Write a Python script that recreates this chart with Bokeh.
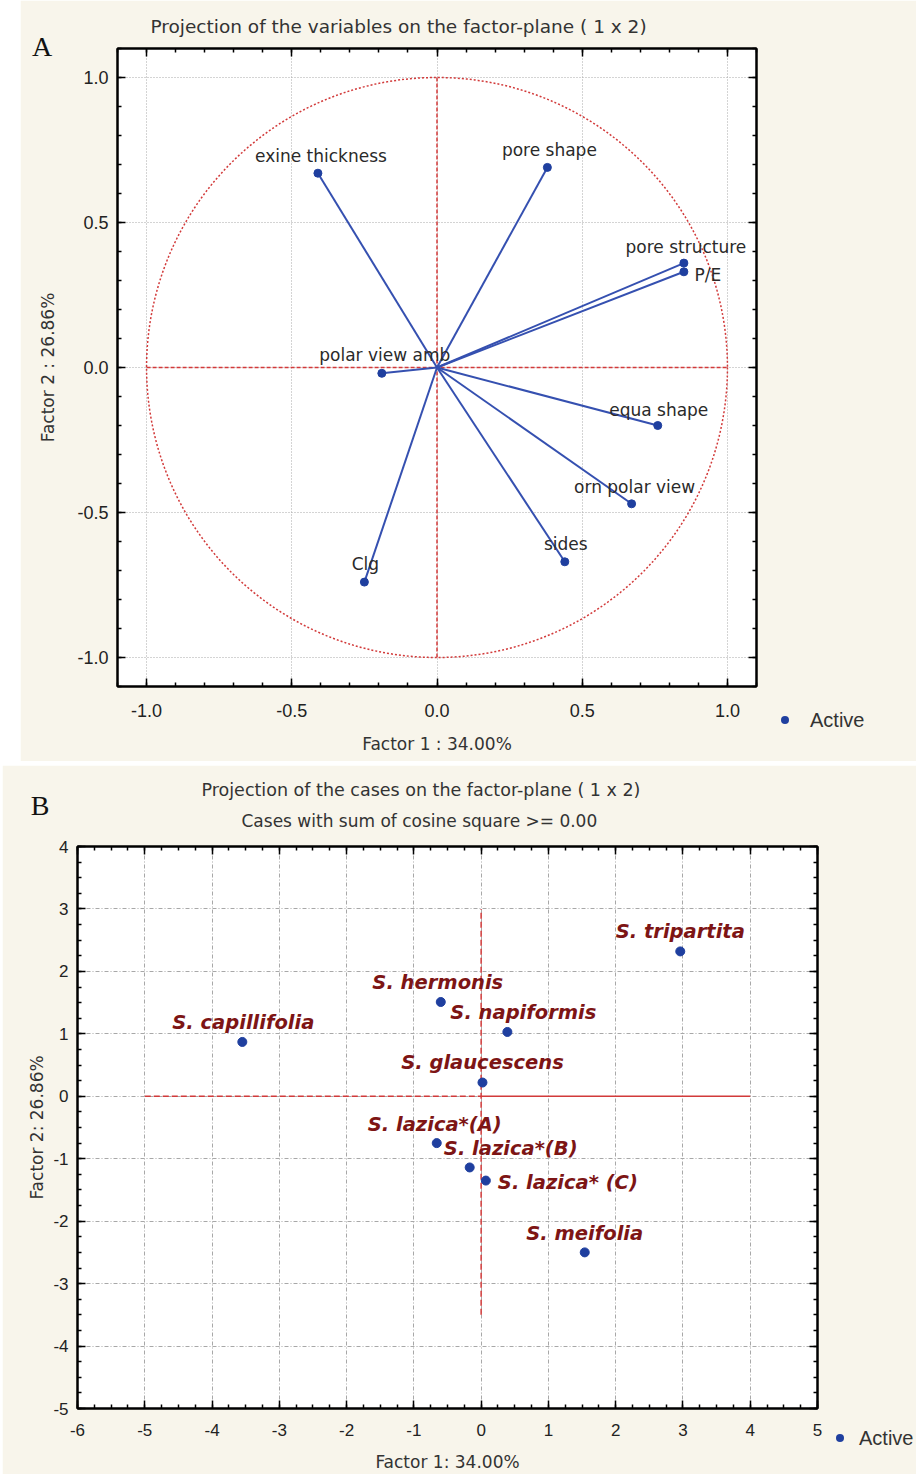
import numpy as np
from bokeh.plotting import figure
from bokeh.models import (Range1d, LinearAxis, FixedTicker, NumeralTickFormatter,
                          CustomJSTickFormatter, Title, Div, ColumnDataSource, Spacer,
                          GridBox)
from bokeh.layouts import column, row
from bokeh.embed import file_html
from bokeh.resources import INLINE
from bokeh.core.properties import value

# ---------------- data: panel A (variables) ----------------
var_names = ["exine thickness", "pore shape", "pore structure", "P/E",
             "polar view amb", "equa shape", "orn polar view", "sides", "Clg"]
var_f1 = [-0.41, 0.38, 0.85, 0.85, -0.19, 0.76, 0.67, 0.44, -0.25]
var_f2 = [0.67, 0.69, 0.36, 0.33, -0.02, -0.20, -0.47, -0.67, -0.74]

# ---------------- data: panel B (cases) ----------------
case_names = ["S. tripartita", "S. hermonis", "S. napiformis", "S. capillifolia",
              "S. glaucescens", "S. lazica*(A)", "S. lazica*(B)", "S. lazica* (C)",
              "S. meifolia"]
case_f1 = [2.96, -0.60, 0.39, -3.55, 0.02, -0.66, -0.17, 0.07, 1.54]
case_f2 = [2.32, 1.51, 1.03, 0.87, 0.22, -0.75, -1.14, -1.35, -2.50]

a_ticks = [-1.0, -0.5, 0.0, 0.5, 1.0]
bx_ticks = list(range(-6, 6))
by_ticks = list(range(-5, 5))

title_a = "Projection of the variables on the factor-plane ( 1 x  2)"
title_b = "Projection of the cases on the factor-plane ( 1 x  2)"
subtitle_b = "Cases with sum of cosine square >=  0.00"
xlab_a, ylab_a = "Factor 1 : 34.00%", "Factor 2 : 26.86%"
xlab_b, ylab_b = "Factor 1: 34.00%", "Factor 2: 26.86%"
legend_label = "Active"

# ---------------- styles ----------------
CREAM = "#f8f5eb"
BLUE = "#1f3f9f"
LINE_BLUE = "#3550b0"
RED = "#d23a3a"
DARKRED = "#7d1515"
GRID = "#a8a8a8"
SANS = "Liberation Sans"
DSANS = "DejaVu Sans"
SERIF = "Liberation Serif"
TXT = "#333333"


def style_axis(ax, ticks, minor, labels=True, fmt=None, size="18px"):
    ax.ticker = FixedTicker(ticks=ticks, minor_ticks=minor)
    ax.axis_line_color = "black"
    ax.axis_line_width = 2
    ax.major_tick_in = 8
    ax.major_tick_out = 0
    ax.minor_tick_in = 4
    ax.minor_tick_out = 0
    ax.major_tick_line_color = "black"
    ax.major_tick_line_width = 1.5
    ax.minor_tick_line_color = "black"
    ax.minor_tick_line_width = 1.5
    if labels:
        ax.formatter = fmt
        ax.major_label_text_font = SANS
        ax.major_label_text_font_size = size
        ax.major_label_text_color = "#222222"
    else:
        ax.formatter = CustomJSTickFormatter(code="return ''")
        ax.major_label_text_font_size = "1px"
        ax.major_label_standoff = 0


def style_label(ax, text, size, standoff):
    ax.axis_label = text
    ax.axis_label_text_font = DSANS
    ax.axis_label_text_font_size = size
    ax.axis_label_text_font_style = "normal"
    ax.axis_label_text_color = TXT
    ax.axis_label_standoff = standoff


def make_title(text, offset, standoff, size):
    t = Title(text=text, align="left", offset=offset, text_font=DSANS,
              text_font_size=size, text_font_style="normal", text_color=TXT)
    try:
        t.standoff = standoff
    except Exception:
        t.standoff = 0
    return t


def overlay_div(w, h, letter, letter_xy, dot_xy, text_x):
    """HTML layer laid over a panel: panel letter and the 'Active' legend."""
    lx, ly = letter_xy
    dx, dy = dot_xy
    html = (
        f'<div style="position:relative;width:{w}px;height:{h}px;pointer-events:none;">'
        f'<span style="position:absolute;left:{lx}px;top:{ly}px;transform:translate(-50%,-50%);'
        f"font-family:'{SERIF}';font-size:28px;line-height:1;color:#111111;\">{letter}</span>"
        f'<span style="position:absolute;left:{dx - 4}px;top:{dy - 4}px;width:8px;height:8px;'
        f'border-radius:50%;background:{BLUE};"></span>'
        f'<span style="position:absolute;left:{text_x}px;top:{dy}px;transform:translate(0,-50%);'
        f"font-family:'{SANS}';font-size:20px;line-height:1;color:{TXT};white-space:nowrap;\">"
        f'{legend_label}</span></div>'
    )
    return Div(text=html, width=w, height=h, margin=0, styles={"pointer-events": "none"})


# ======================= PANEL A =======================
WA, HA = 896, 761
pA = figure(width=WA, height=HA, x_range=Range1d(-1.1, 1.1), y_range=Range1d(-1.1, 1.1),
            output_backend="svg", toolbar_location=None, title=None,
            min_border_left=97, min_border_right=160, min_border_top=48, min_border_bottom=75,
            background_fill_color="white", border_fill_color=CREAM,
            outline_line_color="black", outline_line_width=2)

a_minor = [round(v, 2) for v in np.arange(-1.1, 1.101, 0.1)]
axA_b, axA_l = pA.xaxis[0], pA.yaxis[0]
style_axis(axA_b, a_ticks, a_minor, fmt=NumeralTickFormatter(format="0.0"))
style_axis(axA_l, a_ticks, a_minor, fmt=NumeralTickFormatter(format="0.0"))
axA_b.major_label_standoff = 17
axA_l.major_label_standoff = 9
style_label(axA_b, xlab_a, "17px", 14)
style_label(axA_l, ylab_a, "17px", 16)
axA_t, axA_r = LinearAxis(), LinearAxis()
style_axis(axA_t, a_ticks, a_minor, labels=False)
style_axis(axA_r, a_ticks, a_minor, labels=False)
pA.add_layout(axA_t, "above")
pA.add_layout(axA_r, "right")
pA.add_layout(make_title(title_a, 33, 24, "18.5px"), "above")

for g in (pA.xgrid[0], pA.ygrid[0]):
    g.ticker = FixedTicker(ticks=a_ticks)
    g.grid_line_color = GRID
    g.grid_line_dash = "1 2"
    g.grid_line_width = 1

# unit circle and cross
pA.ellipse(x=0, y=0, width=2, height=2, fill_color=None, line_color=RED,
           line_dash="2 2", line_width=1.5)
pA.line([-1, 1], [0, 0], line_color=RED, line_dash="4 2", line_width=1.5)
pA.line([0, 0], [-1, 1], line_color=RED, line_dash="4 2", line_width=1.5)

srcA = ColumnDataSource(dict(x=var_f1, y=var_f2, name=var_names,
                             xo=[3, 2, 2, 24, 3, 1, 3, 1, 1],
                             yo=[-17, -17, -16, 3, -18, -16, -17, -18, -18]))
pA.segment(x0=0, y0=0, x1="x", y1="y", source=srcA, line_color=LINE_BLUE, line_width=2)
pA.scatter("x", "y", source=srcA, size=8, marker="circle",
           fill_color=BLUE, line_color=BLUE)
pA.text("x", "y", text="name", source=srcA, x_offset="xo", y_offset="yo",
        text_align="center", text_baseline="middle", text_font=value(DSANS),
        text_font_size="17px", text_color="#2a2a2a")

divA = overlay_div(WA, HA, "A", (22, 47), (765, 720), 790)

# ======================= PANEL B =======================
WB, HB = 914, 709
pB = figure(width=WB, height=HB, x_range=Range1d(-6, 5), y_range=Range1d(-5, 4),
            output_backend="svg", toolbar_location=None, title=None,
            min_border_left=75, min_border_right=99, min_border_top=81, min_border_bottom=66,
            background_fill_color="white", border_fill_color=CREAM,
            outline_line_color="black", outline_line_width=2)

bx_minor = [round(v, 2) for v in np.arange(-6, 5.001, 0.25)]
by_minor = [round(v, 2) for v in np.arange(-5, 4.001, 0.25)]
axB_b, axB_l = pB.xaxis[0], pB.yaxis[0]
style_axis(axB_b, bx_ticks, bx_minor, fmt=NumeralTickFormatter(format="0"), size="17px")
style_axis(axB_l, by_ticks, by_minor, fmt=NumeralTickFormatter(format="0"), size="17px")
axB_b.major_label_standoff = 15
axB_l.major_label_standoff = 9
style_label(axB_b, xlab_b, "17px", 13)
style_label(axB_l, ylab_b, "17px", 3)
axB_t, axB_r = LinearAxis(), LinearAxis()
style_axis(axB_t, bx_ticks, bx_minor, labels=False)
style_axis(axB_r, by_ticks, by_minor, labels=False)
pB.add_layout(axB_t, "above")
pB.add_layout(axB_r, "right")
pB.add_layout(make_title(subtitle_b, 164, 31, "17px"), "above")
pB.add_layout(make_title(title_b, 124, -12, "17.5px"), "above")

pB.xgrid[0].ticker = FixedTicker(ticks=bx_ticks)
pB.ygrid[0].ticker = FixedTicker(ticks=by_ticks)
for g in (pB.xgrid[0], pB.ygrid[0]):
    g.grid_line_color = GRID
    g.grid_line_dash = "4 2 1 2"
    g.grid_line_width = 1

pB.line([-5, 0], [0, 0], line_color=RED, line_dash="6 3", line_width=1.5)
pB.line([0, 4], [0, 0], line_color=RED, line_width=1.5)
pB.line([0, 0], [-3.5, 3], line_color=RED, line_dash="6 3", line_width=1.5)

srcB = ColumnDataSource(dict(x=case_f1, y=case_f2, name=case_names,
                             xo=[0, -3, 16, 1, 0, -2, 41, 82, 0],
                             yo=[-20, -19, -19, -19, -20, -19, -19, 2, -19]))
pB.scatter("x", "y", source=srcB, size=9, marker="circle",
           fill_color=BLUE, line_color=BLUE)
pB.text("x", "y", text="name", source=srcB, x_offset="xo", y_offset="yo",
        text_align="center", text_baseline="middle", text_font=value(DSANS),
        text_font_size="19.5px", text_font_style="bold italic", text_color=DARKRED)

divB = overlay_div(WB, HB, "B", (38, 41), (838, 673), 857)

gbA = GridBox(children=[(pA, 0, 0), (divA, 0, 0)])
gbB = GridBox(children=[(pB, 0, 0), (divB, 0, 0)])

layout = column(row(Spacer(width=20, height=HA), gbA),
                Spacer(width=10, height=4),
                row(Spacer(width=2, height=HB), gbB),
                spacing=0)

open("out.html", "w").write(file_html(layout, INLINE))
